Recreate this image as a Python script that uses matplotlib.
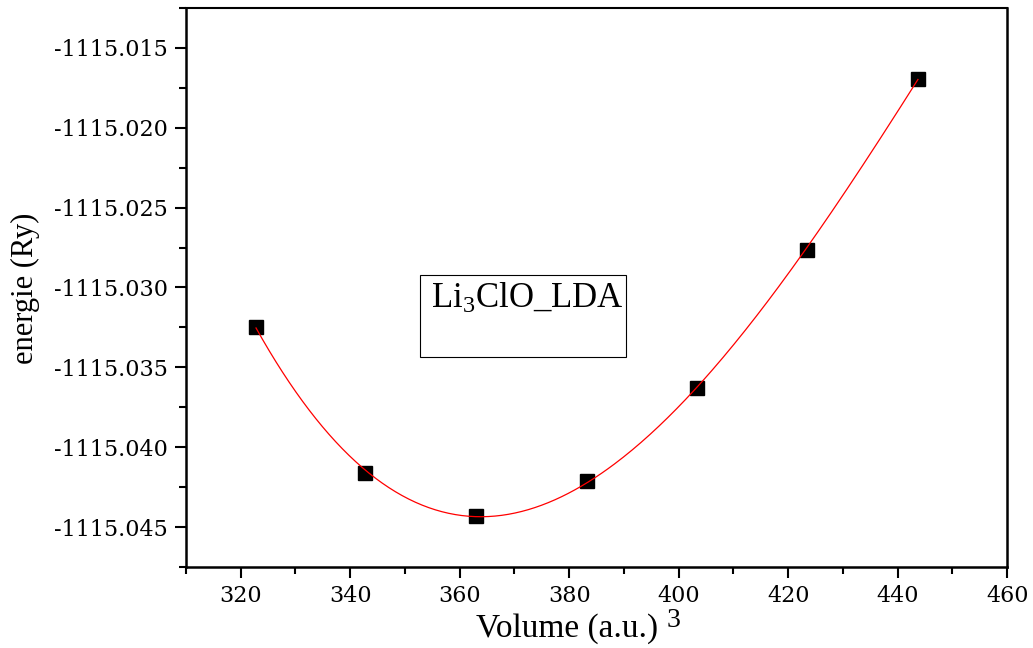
import numpy as np
import matplotlib
matplotlib.use("Agg")
import matplotlib.pyplot as plt
from matplotlib.ticker import MultipleLocator, FormatStrFormatter
from matplotlib.patches import Rectangle

volume = [322.8, 342.7, 363.0, 383.2, 403.3, 423.4, 443.7]
energy = [-1115.03246, -1115.04160, -1115.04429, -1115.04210,
          -1115.03628, -1115.02763, -1115.01692]
label_text = "Li$_3$ClO_LDA"

plt.rcParams['font.family'] = ['Liberation Serif', 'DejaVu Serif']
plt.rcParams['mathtext.fontset'] = 'custom'
plt.rcParams['mathtext.rm'] = 'Liberation Serif'
plt.rcParams['mathtext.it'] = 'Liberation Serif'
plt.rcParams['axes.unicode_minus'] = False

fig = plt.figure(figsize=(10.33, 6.48), dpi=100)
ax = fig.add_axes([0.180, 0.125, 0.795, 0.8627])

# fitted curve (cubic polynomial fit of the data)
coef = np.polyfit(volume, energy, 3)
vv = np.linspace(min(volume), max(volume), 300)
ax.plot(vv, np.polyval(coef, vv), color='red', lw=0.9, zorder=3)
ax.plot(volume, energy, 's', color='black', ms=10, zorder=2, ls='none')

ax.set_xlim(310, 460)
ax.set_ylim(-1115.0475, -1115.0125)
ax.xaxis.set_major_locator(MultipleLocator(20))
ax.xaxis.set_minor_locator(MultipleLocator(10))
ax.yaxis.set_major_locator(MultipleLocator(0.005))
ax.yaxis.set_minor_locator(MultipleLocator(0.0025))
ax.yaxis.set_major_formatter(FormatStrFormatter('%.3f'))

ax.tick_params(which='both', direction='out', top=False, right=False, width=1.5)
ax.tick_params(which='major', length=8, pad=5)
ax.tick_params(which='minor', length=5)
for lab in ax.get_xticklabels() + ax.get_yticklabels():
    lab.set_fontfamily('DejaVu Serif')
    lab.set_fontsize(16)
for s in ['left', 'bottom', 'right']:
    ax.spines[s].set_linewidth(1.8)
ax.spines['top'].set_linewidth(1.5)

fig.text(25/1033, 1-288/648, 'energie (Ry)', fontsize=22, rotation=90,
         ha='center', va='center')
fig.text(476/1033, 1-637/648, 'Volume (a.u.)', fontsize=24, ha='left', va='baseline')
fig.text(667/1033, 1-627/648, '3', fontsize=20, ha='left', va='baseline')

# label box
fig.patches.append(Rectangle((420/1033, 1-357/648), 206/1033, 82/648,
                             transform=fig.transFigure, fill=False,
                             edgecolor='black', lw=0.8))
fig.text(431/1033, 1-308/648, label_text, fontsize=25, ha='left', va='baseline')

fig.savefig('out.png', dpi=100)
